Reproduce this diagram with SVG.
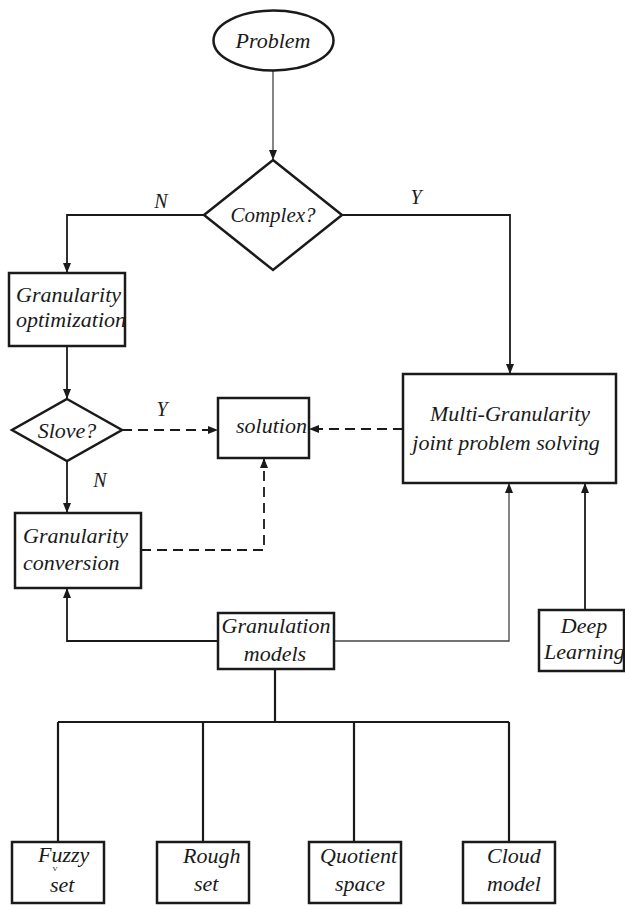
<svg xmlns="http://www.w3.org/2000/svg" width="625" height="906" viewBox="0 0 625 906">
  <style>
    .shape { fill: #ffffff; stroke: #1a1a1a; stroke-width: 2.5; }
    .lbl { font-family: "Liberation Serif", "Times New Roman", serif; font-style: italic; font-size: 22px; fill: #1a1a1a; }
    .yn { font-family: "Liberation Serif", "Times New Roman", serif; font-style: italic; font-size: 20px; fill: #1a1a1a; }
    .mark { font-family: "Liberation Serif", "Times New Roman", serif; font-size: 7px; fill: #1a1a1a; text-anchor: middle; }
    .mid { text-anchor: middle; }
    .wire { fill: none; stroke: #1a1a1a; stroke-width: 1.8; }
    .thin { fill: none; stroke: #444444; stroke-width: 1.3; }
    .dash { fill: none; stroke: #1a1a1a; stroke-width: 1.8; stroke-dasharray: 10 6; }
    .tree { fill: none; stroke: #1a1a1a; stroke-width: 2.2; }
  </style>
  <defs>
    <marker id="arrow" viewBox="0 0 10 8" refX="10" refY="4" markerWidth="10" markerHeight="8" markerUnits="userSpaceOnUse" orient="auto">
      <path d="M0,0 L10,4 L0,8 z" fill="#1a1a1a"/>
    </marker>
  </defs>

  <!-- connectors -->
  <g id="connectors">
    <line class="thin" x1="273" y1="71" x2="273" y2="160" marker-end="url(#arrow)"/>
    <polyline class="wire" points="204,215 67,215 67,273" marker-end="url(#arrow)"/>
    <polyline class="wire" points="342,215 510,215 510,374" marker-end="url(#arrow)"/>
    <line class="wire" x1="67" y1="346" x2="67" y2="399" marker-end="url(#arrow)"/>
    <line class="dash" x1="122" y1="430" x2="218" y2="430" marker-end="url(#arrow)"/>
    <line class="wire" x1="67" y1="461" x2="67" y2="513" marker-end="url(#arrow)"/>
    <line class="dash" x1="403" y1="429" x2="309" y2="429" marker-end="url(#arrow)"/>
    <polyline class="dash" points="141,550 264,550 264,458" marker-end="url(#arrow)"/>
    <polyline class="wire" points="218,641 67,641 67,588" marker-end="url(#arrow)"/>
    <polyline class="thin" points="334,641 509,641 509,483" marker-end="url(#arrow)"/>
    <line class="wire" x1="585" y1="610" x2="585" y2="483" marker-end="url(#arrow)"/>
    <!-- granulation model tree -->
    <line class="tree" x1="275" y1="669" x2="275" y2="722"/>
    <line class="tree" x1="58" y1="722" x2="509" y2="722"/>
    <line class="tree" x1="58" y1="722" x2="58" y2="842"/>
    <line class="tree" x1="203" y1="722" x2="203" y2="842"/>
    <line class="tree" x1="354" y1="722" x2="354" y2="842"/>
    <line class="tree" x1="509" y1="722" x2="509" y2="842"/>
    <!-- branch labels -->
    <text class="yn mid" x="161" y="208">N</text>
    <text class="yn mid" x="416" y="204">Y</text>
    <text class="yn mid" x="162" y="416">Y</text>
    <text class="yn mid" x="100" y="487">N</text>
  </g>

  <g id="problem">
    <ellipse class="shape" cx="273.5" cy="40.5" rx="60" ry="30"/>
    <text class="lbl mid" x="273" y="48">Problem</text>
  </g>

  <g id="complex">
    <polygon class="shape" points="273,160 342,215 273,270 204,215"/>
    <text class="lbl mid" x="273" y="222" style="font-size:21px">Complex?</text>
  </g>

  <g id="granularity-optimization">
    <rect class="shape" x="9" y="273" width="116" height="73"/>
    <text class="lbl" x="16" y="302">Granularity</text>
    <text class="lbl" x="16" y="327">optimization</text>
  </g>

  <g id="slove">
    <polygon class="shape" points="67,399 122,430 67,461 12,430"/>
    <text class="lbl mid" x="67" y="438">Slove?</text>
  </g>

  <g id="solution">
    <rect class="shape" x="218" y="398" width="91" height="60"/>
    <text class="lbl" x="236" y="433">solution</text>
  </g>

  <g id="multi-granularity">
    <rect class="shape" x="403" y="374" width="213" height="109"/>
    <text class="lbl mid" x="510" y="421">Multi-Granularity</text>
    <text class="lbl mid" x="506" y="450">joint problem solving</text>
  </g>

  <g id="granularity-conversion">
    <rect class="shape" x="15" y="513" width="126" height="75"/>
    <text class="lbl" x="23" y="543">Granularity</text>
    <text class="lbl" x="23" y="570">conversion</text>
  </g>

  <g id="granulation-models">
    <rect class="shape" x="218" y="613" width="116" height="56"/>
    <text class="lbl mid" x="276" y="633">Granulation</text>
    <text class="lbl mid" x="275" y="661">models</text>
  </g>

  <g id="deep-learning">
    <rect class="shape" x="539" y="610" width="85" height="61"/>
    <text class="lbl mid" x="584" y="633">Deep</text>
    <text class="lbl" x="544" y="659">Learning</text>
  </g>

  <g id="fuzzy-set">
    <rect class="shape" x="12" y="842" width="92" height="61"/>
    <text class="lbl" x="38" y="862">Fuzzy</text>
    <text class="mark" x="55" y="871">V</text>
    <text class="lbl" x="50" y="892">set</text>
  </g>

  <g id="rough-set">
    <rect class="shape" x="157" y="842" width="92" height="61"/>
    <text class="lbl" x="183" y="863">Rough</text>
    <text class="lbl" x="194" y="891">set</text>
  </g>

  <g id="quotient-space">
    <rect class="shape" x="309" y="842" width="92" height="61"/>
    <text class="lbl" x="320" y="863">Quotient</text>
    <text class="lbl" x="335" y="891">space</text>
  </g>

  <g id="cloud-model">
    <rect class="shape" x="463" y="842" width="92" height="61"/>
    <text class="lbl" x="487" y="863">Cloud</text>
    <text class="lbl" x="487" y="891">model</text>
  </g>
</svg>
